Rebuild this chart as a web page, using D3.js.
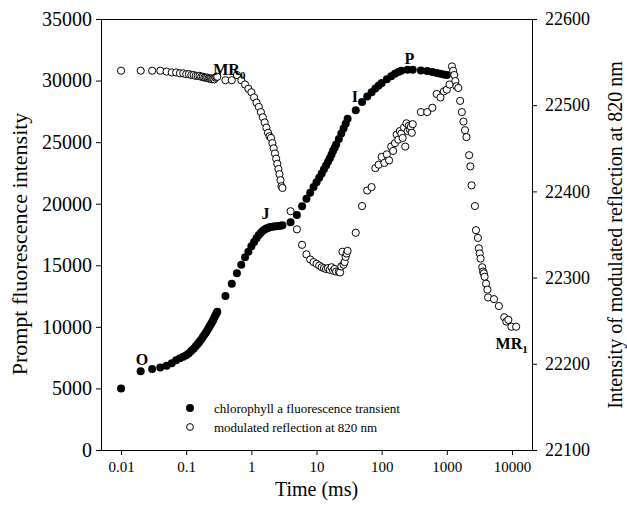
<!DOCTYPE html>
<html>
<head>
<meta charset="utf-8">
<script src="https://cdn.jsdelivr.net/npm/d3@7"></script>
<style>
  body { margin: 0; background: #fff; }
  text { font-family: "Liberation Serif", "DejaVu Serif", serif; fill: #000; }
  .axis path, .axis line { stroke: #000; }
</style>
</head>
<body>
<div id="chart"></div>
<script>
// x tick values (ms)
var timeTicks = [0.01, 0.1, 1, 10, 100, 1000, 10000];
var fluoTicks = [0, 5000, 10000, 15000, 20000, 25000, 30000, 35000];
var reflTicks = [22100, 22200, 22300, 22400, 22500, 22600];

// chlorophyll a fluorescence transient (filled circles)
var fluoTime = [0.01, 0.02, 0.03, 0.04, 0.05, 0.06, 0.07, 0.08, 0.09, 0.10,
  0.11, 0.12, 0.13, 0.14, 0.15, 0.16, 0.17, 0.18, 0.19, 0.20,
  0.21, 0.22, 0.23, 0.24, 0.25, 0.26, 0.27, 0.28, 0.29, 0.30,
  0.4, 0.5, 0.6, 0.7, 0.8, 0.9, 1.0, 1.1, 1.2, 1.3, 1.4, 1.5, 1.6, 1.7, 1.8, 1.9,
  2.0, 2.2, 2.4, 2.6, 2.8, 3.0,
  4, 5, 6, 7, 8, 9, 10, 11, 12, 13, 14, 15, 16, 17, 18, 19, 20, 22, 24, 26, 28, 30,
  40, 50, 60, 70, 80, 90, 100, 120, 140, 160, 180, 200, 250, 300,
  400, 500, 600, 700, 800, 900, 1000];
var fluoValue = [5000, 6400, 6580, 6700, 6850, 7050, 7280, 7450, 7580, 7700,
  7850, 8050, 8220, 8420, 8600, 8800, 8980, 9170, 9350, 9520,
  9700, 9880, 10060, 10230, 10400, 10560, 10750, 10920, 11080, 11230,
  12500, 13500, 14350, 15050, 15650, 16100, 16550, 16900, 17200, 17450, 17650, 17800, 17900, 17980, 18030, 18080,
  18100, 18150, 18180, 18200, 18220, 18250,
  18500, 19080, 19800, 20400, 20900, 21350, 21750, 22100, 22450, 22800, 23100, 23400, 23700, 24000, 24300, 24550, 24800, 25250, 25700, 26100, 26500, 26900,
  27600, 28250, 28700, 29050, 29350, 29600, 29800, 30100, 30350, 30550, 30700, 30800, 30870, 30880,
  30820, 30780, 30700, 30620, 30550, 30500, 30450];

// modulated reflection at 820 nm (open circles)
var reflTime = [0.01, 0.02, 0.03, 0.04, 0.05, 0.06, 0.07, 0.08, 0.09, 0.10,
  0.11, 0.12, 0.13, 0.14, 0.15, 0.16, 0.17, 0.18, 0.19, 0.20,
  0.21, 0.22, 0.23, 0.24, 0.25, 0.26, 0.27, 0.28, 0.29, 0.30,
  0.4, 0.5, 0.6, 0.7, 0.8, 0.9, 1.0, 1.1, 1.2, 1.3, 1.4, 1.5, 1.6, 1.7, 1.8, 1.9,
  2.0, 2.1, 2.2, 2.3, 2.4, 2.5, 2.6, 2.7, 2.8, 2.9, 3.0,
  4, 5, 6, 7, 8, 9, 10, 11, 12, 13, 14, 15, 16, 17, 18, 19, 20, 22, 23, 24, 25, 26, 27, 28, 29, 30,
  40, 50, 60, 70, 80, 90, 100, 110, 120, 130, 140, 150, 160, 170, 180, 190, 200, 210, 220, 230, 240, 250, 260, 270, 280, 290, 300,
  400, 500, 600, 700, 800, 900, 1000, 1100, 1200, 1250, 1300, 1350, 1400, 1500, 1600, 1700, 1800, 1900, 2000, 2200, 2300, 2400,
  2700, 2800, 3000, 3100, 3200, 3300, 3500, 3600, 3700, 3800, 4000, 4200, 4300,
  5300, 6300, 7600, 8200, 8800, 9800, 11600];
var reflValue = [22540, 22540, 22540, 22540, 22539, 22538, 22538, 22537, 22537, 22536,
  22536, 22535, 22535, 22534, 22534, 22534, 22533, 22533, 22532, 22532,
  22532, 22531, 22531, 22531, 22530, 22531, 22530, 22532, 22533, 22533,
  22529, 22529, 22535, 22529, 22524, 22519, 22515, 22509, 22503, 22498, 22492, 22486, 22480, 22474, 22468, 22464,
  22462, 22456, 22450, 22444, 22438, 22432, 22426, 22420, 22413, 22406, 22404,
  22377, 22356, 22338, 22327, 22321, 22318, 22316, 22314, 22312, 22311, 22310, 22311, 22309, 22312, 22308, 22310, 22307, 22307, 22306, 22313, 22330, 22315, 22318, 22324, 22328, 22331,
  22352, 22383, 22401, 22405, 22427, 22431, 22440, 22433, 22443, 22436, 22452, 22447, 22456, 22466, 22460, 22470, 22467, 22462, 22474, 22452, 22479, 22470, 22476, 22472, 22475, 22468, 22478,
  22492, 22492, 22497, 22513, 22509, 22516, 22518, 22524, 22545, 22540, 22535, 22528, 22522, 22520, 22505, 22492, 22481, 22471, 22463, 22442, 22429, 22407,
  22383, 22355, 22346, 22334, 22328, 22322, 22312, 22307, 22305, 22301, 22293, 22286, 22277,
  22275, 22267, 22254, 22249, 22251, 22243, 22243];

// point labels
var fluoLabels = [
  { text: "O", t: 0.02, v: 6400 },
  { text: "J", t: 1.9, v: 18080 },
  { text: "I", t: 40, v: 27600 },
  { text: "P", t: 250, v: 30870 }
];

var width = 627, height = 505;
var margin = { top: 19, right: 95, bottom: 55, left: 101 };

var svg = d3.select("#chart")
  .append("svg")
  .attr("width", width)
  .attr("height", height);

// scales
var xScale = d3.scaleLog()
  .domain([0.00492, 20300])
  .range([margin.left, width - margin.right]);

var yFluo = d3.scaleLinear()
  .domain([0, 35000])
  .range([height - margin.bottom, margin.top]);

var yRefl = d3.scaleLinear()
  .domain([22100, 22600])
  .range([height - margin.bottom, margin.top]);

// frame on top
svg.append("line")
  .attr("x1", margin.left).attr("x2", width - margin.right)
  .attr("y1", margin.top + 0.5).attr("y2", margin.top + 0.5)
  .attr("stroke", "#000");

// x axis
var xAxis = svg.append("g")
  .attr("class", "axis")
  .attr("transform", "translate(0," + (height - margin.bottom) + ")")
  .call(d3.axisBottom(xScale)
    .tickValues(timeTicks)
    .tickSize(5)
    .tickSizeOuter(0)
    .tickPadding(6)
    .tickFormat(function(d) { return String(d); }));
xAxis.selectAll("text").style("font-size", "15px");

// left axis
var yAxisL = svg.append("g")
  .attr("class", "axis")
  .attr("transform", "translate(" + margin.left + ",0)")
  .call(d3.axisLeft(yFluo)
    .tickValues(fluoTicks)
    .tickSize(5)
    .tickSizeOuter(0)
    .tickPadding(4)
    .tickFormat(d3.format("d")));
yAxisL.selectAll("text").style("font-size", "20px");

// right axis
var yAxisR = svg.append("g")
  .attr("class", "axis")
  .attr("transform", "translate(" + (width - margin.right) + ",0)")
  .call(d3.axisRight(yRefl)
    .tickValues(reflTicks)
    .tickSize(5)
    .tickSizeOuter(0)
    .tickPadding(8)
    .tickFormat(d3.format("d")));
yAxisR.selectAll("text").style("font-size", "18px");

// axis titles
svg.append("text")
  .attr("text-anchor", "middle")
  .attr("x", (margin.left + width - margin.right) / 2)
  .attr("y", 496)
  .style("font-size", "20px")
  .text("Time (ms)");

svg.append("text")
  .attr("text-anchor", "middle")
  .attr("transform", "translate(27,244) rotate(-90)")
  .style("font-size", "22px")
  .text("Prompt fluorescence intensity");

svg.append("text")
  .attr("text-anchor", "middle")
  .attr("transform", "translate(622,235) rotate(-90)")
  .style("font-size", "20px")
  .text("Intensity of modulated reflection at 820 nm");

// fluorescence points
var fluoData = fluoTime.map(function(t, i) { return { t: t, v: fluoValue[i] }; });
var reflData = reflTime.map(function(t, i) { return { t: t, v: reflValue[i] }; });

svg.append("g")
  .selectAll("circle")
  .data(fluoData)
  .enter()
  .append("circle")
  .attr("cx", function(d) { return xScale(d.t); })
  .attr("cy", function(d) { return yFluo(d.v); })
  .attr("r", 4)
  .attr("fill", "#000");

// reflection points
svg.append("g")
  .selectAll("circle")
  .data(reflData)
  .enter()
  .append("circle")
  .attr("cx", function(d) { return xScale(d.t); })
  .attr("cy", function(d) { return yRefl(d.v); })
  .attr("r", 3.6)
  .attr("fill", "#fff")
  .attr("stroke", "#000")
  .attr("stroke-width", 1);

// O J I P labels
var labelOffset = { O: [-5, -6], J: [-8, -8], I: [-4, -8], P: [-3, -6] };
svg.append("g")
  .selectAll("text")
  .data(fluoLabels)
  .enter()
  .append("text")
  .attr("x", function(d) { return xScale(d.t) + labelOffset[d.text][0]; })
  .attr("y", function(d) { return yFluo(d.v) + labelOffset[d.text][1]; })
  .style("font-size", "16px")
  .style("font-weight", "bold")
  .text(function(d) { return d.text; });

// MR0 and MR1 labels
var mr0 = svg.append("text")
  .attr("x", xScale(0.26))
  .attr("y", yRefl(22540) + 4)
  .style("font-size", "16px")
  .style("font-weight", "bold");
mr0.append("tspan").text("MR");
mr0.append("tspan").attr("dy", 4).style("font-size", "11px").text("0");

var mr1 = svg.append("text")
  .attr("x", xScale(5600))
  .attr("y", yRefl(22243) + 22)
  .style("font-size", "16px")
  .style("font-weight", "bold");
mr1.append("tspan").text("MR");
mr1.append("tspan").attr("dy", 4).style("font-size", "11px").text("1");

// legend
var legend = svg.append("g");
legend.append("circle")
  .attr("cx", 190).attr("cy", 408).attr("r", 4)
  .attr("fill", "#000");
legend.append("text")
  .attr("x", 214).attr("y", 412.5)
  .style("font-size", "13px")
  .text("chlorophyll a fluorescence transient");
legend.append("circle")
  .attr("cx", 190).attr("cy", 427).attr("r", 3.4)
  .attr("fill", "#fff").attr("stroke", "#000");
legend.append("text")
  .attr("x", 214).attr("y", 431.5)
  .style("font-size", "13px")
  .text("modulated reflection at 820 nm");
</script>
</body>
</html>
